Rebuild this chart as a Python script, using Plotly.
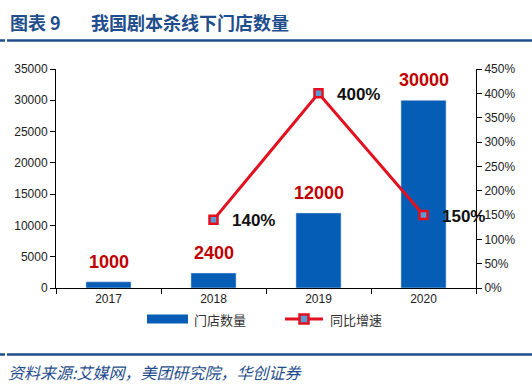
import plotly.graph_objects as go

categories = ["2017", "2018", "2019", "2020"]
stores = [1000, 2400, 12000, 30000]
growth = [None, 1.40, 4.00, 1.50]
growth_labels = ["", "140%", "400%", "150%"]

title_prefix = "图表 9"
title_text = "我国剧本杀线下门店数量"
source_text = "资料来源:艾媒网，美团研究院，华创证券"
legend_bar = "门店数量"
legend_line = "同比增速"

W, H = 532, 386
L, R, T, B = 56, 476, 69, 288

def px(x):
    return (x - L) / (R - L)

def py(y):
    return (B - y) / (B - T)

BAR = "#055DB6"
RED = "#E3101F"
MFILL = "#5B9BD5"
NAVY = "#1F4E8C"
CJK = "Noto Sans CJK SC"
NUM = "Liberation Sans, Arial"

fig = go.Figure()
fig.add_trace(go.Bar(x=categories, y=stores, marker_color=BAR, width=0.43,
                     name=legend_bar, showlegend=False))
fig.add_trace(go.Scatter(x=categories, y=growth, yaxis="y2", mode="lines+markers",
                         line=dict(color=RED, width=3),
                         marker=dict(symbol="square", size=8, color=MFILL,
                                     line=dict(color=RED, width=2.5)),
                         name=legend_line, showlegend=False))

ann = []
for i, v in enumerate(stores):
    ann.append(dict(x=i, y=v, xref="x", yref="y", text=f"<b>{v}</b>", showarrow=False,
                    yanchor="bottom", yshift=8,
                    font=dict(family=NUM, size=18, color="#C00000")))
for i, (v, t) in enumerate(zip(growth, growth_labels)):
    if v is None:
        continue
    ann.append(dict(x=i, y=v, xref="x", yref="y2", text=f"<b>{t}</b>", showarrow=False,
                    xanchor="left", xshift=16, yshift=-1,
                    font=dict(family=NUM, size=17, color="#111111")))

ann.append(dict(x=px(8), y=py(22), xref="paper", yref="paper", text=f"<b>{title_prefix}</b>",
                showarrow=False, xanchor="left", yanchor="middle",
                font=dict(family=CJK, size=18, color=NAVY)))
ann.append(dict(x=px(89), y=py(22), xref="paper", yref="paper", text=f"<b>{title_text}</b>",
                showarrow=False, xanchor="left", yanchor="middle",
                font=dict(family=CJK, size=18, color=NAVY)))
ann.append(dict(x=px(6), y=py(372), xref="paper", yref="paper", text=f"<i>{source_text}</i>",
                showarrow=False, xanchor="left", yanchor="middle",
                font=dict(family=CJK, size=16, color=NAVY)))
ann.append(dict(x=px(192), y=py(319), xref="paper", yref="paper", text=legend_bar,
                showarrow=False, xanchor="left", yanchor="middle",
                font=dict(family=CJK, size=13, color="#333333")))
ann.append(dict(x=px(328), y=py(319), xref="paper", yref="paper", text=legend_line,
                showarrow=False, xanchor="left", yanchor="middle",
                font=dict(family=CJK, size=13, color="#333333")))

shapes = []
for y0 in (40.5, 354.5):
    shapes.append(dict(type="line", xref="paper", yref="paper", x0=px(0), x1=px(5),
                       y0=py(y0), y1=py(y0), line=dict(color=NAVY, width=2.5)))
    shapes.append(dict(type="line", xref="paper", yref="paper", x0=px(7), x1=px(532),
                       y0=py(y0), y1=py(y0), line=dict(color=NAVY, width=2.5)))
shapes.append(dict(type="rect", xref="paper", yref="paper", x0=px(147), x1=px(188),
                   y0=py(323.5), y1=py(314.5), fillcolor=BAR, line=dict(width=0)))
shapes.append(dict(type="line", xref="paper", yref="paper", x0=px(285), x1=px(323),
                   y0=py(319), y1=py(319), line=dict(color=RED, width=3)))
shapes.append(dict(type="rect", xref="paper", yref="paper", x0=px(299.5), x1=px(308.5),
                   y0=py(323.5), y1=py(314.5), fillcolor=MFILL, line=dict(color=RED, width=2.5)))

axfont = dict(family=NUM, size=12, color="#222")
fig.update_layout(
    width=W, height=H,
    margin=dict(l=L, r=W - R, t=T, b=H - B, pad=0, autoexpand=False),
    paper_bgcolor="white", plot_bgcolor="white",
    showlegend=False,
    annotations=ann, shapes=shapes,
    xaxis=dict(type="category", range=[-0.5, 3.5], tickson="boundaries", ticks="outside",
               ticklen=5, tickcolor="#000", showline=True, linecolor="#000", linewidth=1,
               showgrid=False, tickfont=axfont, automargin=False),
    yaxis=dict(range=[0, 35000], dtick=5000, tickformat="d", ticks="outside", ticklen=5,
               tickcolor="#000", showline=True, linecolor="#000", linewidth=1,
               showgrid=False, zeroline=False, tickfont=axfont, automargin=False),
    yaxis2=dict(range=[0, 4.5], dtick=0.5, tickformat=".0%", overlaying="y", side="right",
                ticks="outside", ticklen=5, tickcolor="#000", showline=True, linecolor="#000",
                linewidth=1, showgrid=False, zeroline=False, tickfont=axfont,
                automargin=False),
)

fig.write_html("out.html", config={"displayModeBar": False},
               post_script="document.body.style.margin='0';document.body.style.overflow='hidden';")
